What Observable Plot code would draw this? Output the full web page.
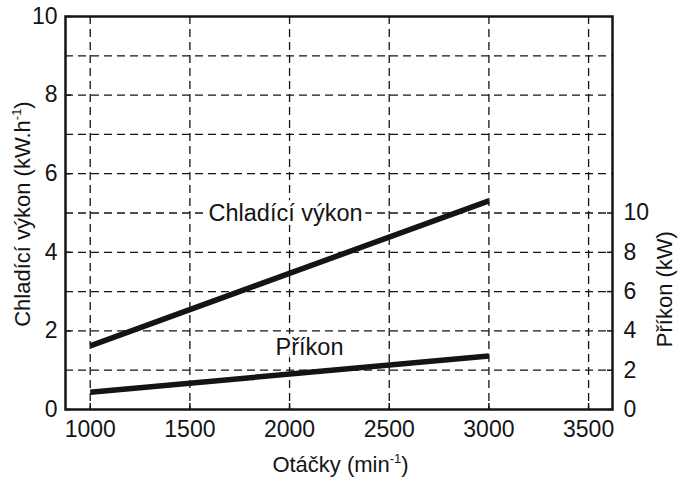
<!DOCTYPE html>
<html><head><meta charset="utf-8">
<script src="https://cdn.jsdelivr.net/npm/d3@7"></script>
<script src="https://cdn.jsdelivr.net/npm/@observablehq/plot@0.6"></script>
<style>body{margin:0;background:#fff} svg{font-family:"Liberation Sans",Arial,sans-serif}</style>
</head><body><div id="chart"></div>
<script>
// Data
const rpm = [1000, 3000];                 // Otáčky (min-1)
const coolingPower = [1.62, 5.31];        // Chladící výkon (kW.h-1), left axis
const inputPower = [0.88, 2.72];          // Příkon (kW), right axis
const xTicks = [1000, 1500, 2000, 2500, 3000, 3500];
const yTicks = [0, 2, 4, 6, 8, 10];
const yGrid = [1, 2, 3, 4, 5, 6, 7, 8, 9];
const rightTicks = [0, 2, 4, 6, 8, 10];   // kW
const seriesNames = ["Chladící výkon", "Příkon"];
const labelX = [1980, 2100];
const labelY = [5.0, 1.57];
const kwToLeft = 0.5; // right axis: 10 kW == 5 on left axis

const cooling = rpm.map((x, i) => ({x, y: coolingPower[i]}));
const input = rpm.map((x, i) => ({x, y: inputPower[i] * kwToLeft}));
const labels = seriesNames.map((text, i) => ({text, x: labelX[i], y: labelY[i]}));

const ink = "#141414";
const plot = Plot.plot({
  width: 678, height: 478,
  marginLeft: 65, marginRight: 66, marginTop: 16, marginBottom: 69,
  style: {fontFamily: "Liberation Sans, Arial, sans-serif", fontSize: "23px", background: "#fff", color: ink},
  x: {domain: [876, 3620]},
  y: {domain: [0, 10]},
  marks: [
    Plot.ruleY(yGrid, {stroke: ink, strokeWidth: 1.3, strokeDasharray: "8,5"}),
    Plot.ruleX(xTicks, {stroke: ink, strokeWidth: 1.3, strokeDasharray: "8,5"}),
    Plot.line(cooling, {x: "x", y: "y", stroke: ink, strokeWidth: 5.5, strokeLinecap: "butt"}),
    Plot.line(input, {x: "x", y: "y", stroke: ink, strokeWidth: 5.5, strokeLinecap: "butt"}),
    Plot.text(labels, {x: "x", y: "y", text: "text", fontSize: 23.5, fill: ink, stroke: "white", strokeWidth: 8, paintOrder: "stroke", textAnchor: "middle", lineAnchor: "middle"}),
    Plot.frame({stroke: ink, strokeWidth: 2.5}),
    Plot.axisX({ticks: xTicks, tickFormat: d => String(d), tickSize: 0, tickPadding: 11, label: null, fontSize: 23}),
    Plot.axisX({ticks: xTicks, tickSize: -6, text: null, label: null, strokeWidth: 1.5}),
    Plot.axisY({ticks: yTicks, tickFormat: d => String(d), tickSize: 0, tickPadding: 8, label: null, fontSize: 23}),
    Plot.axisY({ticks: yTicks, tickSize: -6, text: null, label: null, strokeWidth: 1.5}),
    Plot.axisY({anchor: "right", ticks: rightTicks.map(d => d * kwToLeft), tickFormat: d => String(d / kwToLeft), tickSize: 0, tickPadding: 11, label: null, fontSize: 23}),
    Plot.axisY({anchor: "right", ticks: rightTicks.map(d => d * kwToLeft), tickSize: -6, text: null, label: null, strokeWidth: 1.5})
  ]
});
document.getElementById("chart").appendChild(plot);

// Axis titles with superscripts
const xs = plot.scale("x"), ys = plot.scale("y");
const svg = d3.select(plot);
const left = xs.apply(876), right = xs.apply(3620), bottom = ys.apply(0);
function title(parts, x, y, rotate) {
  const t = svg.append("text")
    .attr("transform", `translate(${x},${y})` + (rotate ? ` rotate(${rotate})` : ""))
    .attr("text-anchor", "middle")
    .attr("fill", ink)
    .attr("font-size", 22)
    .attr("dy", "0.35em");
  let shift = 0;
  for (const [s, sup] of parts) {
    const sp = t.append("tspan").text(s);
    if (sup && shift === 0) { sp.attr("font-size", 13).attr("dy", -9); shift = 9; }
    else if (!sup && shift) { sp.attr("dy", shift); shift = 0; }
  }
}
title([["Chladící výkon (kW.h"], ["-1", true], [")"]], left - 43, ys.apply(4.96), -90);
title([["Otáčky (min"], ["-1", true], [")"]], (left + right) / 2 + 2, bottom + 55, 0);
title([["Příkon (kW)"]], right + 52, ys.apply(3.05), -90);
</script>
</body></html>
